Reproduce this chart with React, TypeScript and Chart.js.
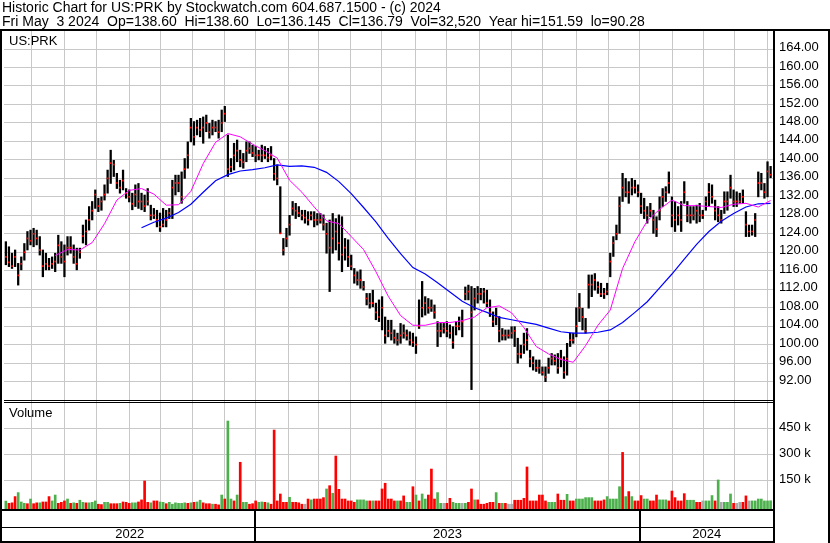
import React, { useEffect, useRef } from 'react';
import { Chart, registerables } from 'chart.js';

Chart.register(...registerables);

const TITLE_LINE1 = 'Historic Chart for US:PRK by Stockwatch.com 604.687.1500 - (c) 2024';
const TITLE_LINE2 = 'Fri May  3 2024  Op=138.60  Hi=138.60  Lo=136.145  Cl=136.79  Vol=32,520  Year hi=151.59  lo=90.28';
const SYMBOL = 'US:PRK';
const VOLUME_LABEL = 'Volume';

// price bars (each bar ~2 trading days)
const highs = [
  122.3, 121.2, 119.8, 120.5, 117.6, 119.0, 121.9, 124.5, 124.8, 125.2,
  124.8, 123.4, 120.5, 119.8, 118.7, 119.0, 119.8, 123.7, 122.3, 121.6,
  123.4, 123.4, 121.6, 120.9, 120.9, 125.9, 127.0, 129.9, 131.0, 133.5,
  131.7, 132.0, 134.6, 137.8, 142.1, 139.9, 137.1, 135.6, 137.8, 133.8,
  133.5, 132.8, 134.6, 134.9, 132.8, 132.4, 133.8, 130.2, 129.5, 129.1,
  128.5, 129.5, 129.1, 129.5, 135.6, 136.7, 136.7, 137.4, 140.3, 143.9,
  149.0, 148.3, 148.6, 149.0, 149.3, 149.7, 147.9, 148.6, 148.3, 148.6,
  150.8, 151.59, 145.4, 140.3, 143.6, 144.3, 142.1, 141.4, 143.9, 143.9,
  143.2, 142.9, 142.1, 143.2, 142.9, 142.5, 142.9, 140.3, 138.9, 134.2,
  123.0, 125.2, 128.0, 131.0, 130.6, 129.9, 129.1, 129.1, 128.8, 128.8,
  128.8, 128.4, 128.4, 128.1, 126.3, 127.0, 128.4, 127.3, 128.1, 127.7,
  123.0, 122.7, 119.4, 116.5, 115.8, 116.2, 113.7, 111.1, 111.1, 111.8,
  109.0, 109.7, 110.4, 106.0, 105.3, 105.3, 103.2, 102.5, 104.6, 104.3,
  103.2, 102.8, 102.5, 101.7, 109.7, 113.7, 110.4, 110.0, 109.7, 108.6,
  105.0, 104.6, 104.6, 105.0, 104.3, 103.9, 105.0, 106.0, 107.5, 112.5,
  112.9, 112.6, 112.2, 112.6, 112.2, 112.2, 111.8, 109.7, 107.1, 107.9,
  106.1, 103.5, 103.2, 103.2, 103.9, 103.9, 101.4, 99.9, 102.5, 103.5,
  98.8, 97.4, 96.7, 96.7, 95.2, 95.2, 97.1, 98.1, 97.8, 98.1,
  98.8, 97.4, 100.3, 102.5, 102.5, 108.0, 111.1, 107.9, 105.7, 115.1,
  115.1, 115.4, 113.6, 113.3, 112.2, 113.3, 119.8, 123.4, 125.9, 132.0,
  137.1, 136.0, 135.3, 136.0, 135.6, 134.6, 132.8, 131.7, 129.9, 130.6,
  129.1, 127.7, 132.0, 133.8, 134.2, 137.4, 132.0, 131.0, 129.9, 131.0,
  135.3, 131.0, 129.9, 129.9, 130.2, 130.6, 129.1, 132.0, 134.9, 134.6,
  131.3, 129.9, 129.1, 133.1, 133.1, 136.7, 133.5, 133.1, 132.8, 133.5,
  128.8, 125.9, 125.9, 128.4, 137.4, 137.1, 134.9, 139.6, 138.6,
];
const lows = [
  117.3, 116.9, 116.5, 116.9, 112.9, 116.2, 118.3, 120.5, 121.6, 121.2,
  121.6, 119.4, 114.7, 116.2, 116.2, 116.5, 115.8, 117.6, 117.6, 114.7,
  119.4, 119.8, 117.6, 116.2, 118.7, 122.0, 121.6, 124.8, 127.0, 129.5,
  128.8, 129.1, 131.3, 132.8, 134.9, 136.4, 133.8, 132.8, 133.5, 131.7,
  130.9, 129.2, 129.9, 129.5, 129.2, 128.8, 130.2, 127.0, 127.3, 125.5,
  124.5, 125.5, 125.5, 127.3, 127.3, 132.4, 133.1, 130.6, 136.0, 138.2,
  143.9, 143.2, 145.4, 145.0, 143.6, 146.1, 144.7, 145.4, 146.1, 144.7,
  146.1, 148.3, 136.4, 137.4, 137.8, 139.6, 138.5, 138.2, 139.6, 141.4,
  140.7, 139.6, 140.0, 139.6, 140.3, 139.6, 140.0, 135.6, 134.6, 124.1,
  119.4, 121.2, 123.7, 128.0, 127.3, 127.7, 127.0, 126.3, 125.9, 127.0,
  125.5, 125.9, 126.3, 124.8, 119.8, 111.5, 119.8, 120.5, 118.3, 115.8,
  118.3, 116.9, 116.2, 113.3, 112.9, 112.2, 111.8, 108.6, 107.9, 108.2,
  105.4, 105.0, 103.2, 100.3, 101.7, 101.0, 100.3, 99.9, 100.3, 101.4,
  101.0, 99.9, 99.6, 98.1, 103.5, 106.0, 106.4, 106.8, 107.2, 105.7,
  99.6, 101.7, 102.5, 101.7, 101.4, 99.2, 102.1, 103.2, 101.7, 109.7,
  109.7, 90.28, 107.5, 109.0, 109.7, 109.0, 108.2, 106.1, 103.9, 104.3,
  100.6, 101.0, 101.0, 101.4, 101.4, 99.6, 96.0, 97.1, 98.1, 98.8,
  95.2, 94.5, 94.2, 93.8, 93.4, 92.0, 93.8, 95.6, 95.6, 93.8,
  95.2, 92.7, 93.4, 99.6, 100.3, 101.7, 105.0, 103.2, 102.5, 107.9,
  110.4, 111.8, 111.1, 110.4, 110.0, 110.8, 114.7, 119.1, 122.7, 124.1,
  131.0, 132.0, 130.6, 132.4, 132.8, 132.0, 128.4, 127.3, 126.3, 127.7,
  124.1, 123.4, 127.0, 129.9, 131.0, 132.8, 125.5, 124.5, 125.9, 124.5,
  130.6, 126.6, 126.3, 127.0, 126.3, 126.6, 127.3, 129.1, 129.9, 130.6,
  127.0, 126.6, 126.3, 128.4, 129.1, 131.7, 129.9, 129.9, 130.6, 130.6,
  123.4, 123.4, 123.7, 123.4, 132.0, 133.5, 131.7, 132.0, 136.145,
];
const closes = [
  119.0, 117.8, 117.0, 119.0, 115.0, 117.5, 120.0, 123.0, 122.5, 124.0,
  123.0, 120.5, 117.0, 117.5, 117.0, 117.5, 118.0, 121.5, 119.0, 118.0,
  121.0, 121.0, 119.0, 117.5, 120.0, 123.5, 124.5, 127.0, 129.0, 132.5,
  130.0, 131.0, 132.5, 136.0, 139.3, 139.0, 135.0, 134.0, 135.5, 132.8,
  132.0, 130.5, 132.5, 131.0, 131.0, 130.0, 131.0, 128.0, 128.0, 127.0,
  125.5, 126.0, 127.0, 128.5, 134.0, 135.0, 135.0, 132.0, 138.0, 141.0,
  147.0, 145.0, 147.0, 146.5, 147.0, 148.0, 146.0, 147.0, 147.0, 146.0,
  148.0, 150.0, 138.0, 138.5, 141.0, 142.0, 140.0, 139.5, 142.0, 142.5,
  141.5, 141.0, 141.0, 141.0, 141.0, 140.5, 141.0, 137.0, 136.0, 124.1,
  120.5, 123.0, 126.0, 129.5, 129.0, 128.5, 128.0, 127.5, 127.0, 128.0,
  127.0, 127.0, 127.0, 126.0, 124.0, 121.0, 123.0, 124.5, 122.0, 119.5,
  121.0, 119.0, 117.0, 115.0, 114.0, 114.0, 112.5, 110.0, 109.0, 109.0,
  107.0, 106.0, 108.0, 102.0, 103.0, 102.5, 101.5, 101.0, 102.0, 102.5,
  102.0, 101.0, 100.5, 100.0, 104.0, 108.0, 109.0, 108.0, 108.0, 107.0,
  103.0, 103.0, 103.5, 103.0, 102.5, 100.5, 104.0, 104.0, 105.0, 111.0,
  111.5, 107.0, 110.0, 111.0, 111.0, 111.5, 109.0, 107.0, 105.0, 106.0,
  103.0, 102.0, 102.0, 102.0, 102.5, 103.0, 98.0, 98.0, 100.0, 101.0,
  97.0, 96.0, 95.0, 95.0, 94.0, 93.0, 95.0, 97.0, 96.5, 95.0,
  97.0, 94.0, 97.0, 101.0, 101.0, 104.0, 108.0, 106.0, 103.0, 113.0,
  113.0, 114.0, 112.5, 111.0, 111.0, 111.5, 118.0, 122.0, 124.0, 130.0,
  134.0, 133.0, 133.0, 134.0, 134.0, 133.0, 130.0, 129.0, 128.0, 129.0,
  127.0, 125.0, 129.0, 132.0, 133.0, 135.0, 128.0, 127.0, 128.0, 127.0,
  133.0, 128.0, 128.0, 128.0, 129.0, 128.0, 128.0, 131.0, 133.0, 132.0,
  129.0, 128.0, 127.0, 131.0, 131.0, 134.0, 131.0, 131.0, 131.0, 132.0,
  126.0, 124.5, 124.5, 127.0, 135.0, 135.0, 133.0, 137.5, 136.79,
];
// volume in thousands of shares
const volumesK = [
  30, 17, 20, 56, 79, 25, 17, 15, 42, 15,
  20, 20, 25, 25, 56, 31, 65, 17, 23, 31,
  42, 17, 20, 17, 35, 23, 20, 20, 23, 31,
  12, 10, 23, 23, 15, 15, 15, 17, 25, 23,
  17, 20, 20, 25, 37, 146, 23, 20, 31, 31,
  25, 23, 15, 23, 12, 20, 17, 17, 20, 17,
  20, 23, 25, 35, 20, 15, 15, 12, 12, 8,
  65, 42, 492, 42, 31, 65, 254, 23, 23, 12,
  15, 31, 23, 25, 23, 20, 12, 440, 31, 71,
  23, 23, 52, 23, 23, 20, 12, 12, 42, 37,
  42, 42, 42, 50, 100, 119, 75, 290, 98, 42,
  42, 31, 31, 23, 37, 37, 37, 31, 31, 31,
  31, 31, 100, 133, 42, 42, 31, 31, 31, 60,
  23, 23, 113, 65, 31, 71, 42, 65, 215, 42,
  79, 17, 17, 17, 46, 23, 17, 17, 17, 17,
  23, 100, 37, 37, 12, 12, 17, 23, 23, 79,
  17, 17, 17, 12, 12, 35, 35, 35, 46, 227,
  31, 31, 31, 65, 65, 31, 23, 23, 23, 71,
  35, 35, 69, 31, 31, 42, 42, 42, 50, 50,
  50, 31, 31, 31, 37, 56, 42, 42, 42, 113,
  311, 56, 85, 56, 31, 31, 62, 42, 42, 31,
  31, 65, 37, 37, 37, 31, 88, 50, 31, 31,
  73, 35, 35, 35, 23, 23, 31, 31, 31, 62,
  31, 152, 23, 23, 23, 71, 17, 17, 23, 23,
  60, 31, 31, 31, 42, 42, 31, 31, 32,
];
// g = up, r = down, n = unchanged
const volumeDirections = [
  'grrrgggrgr', 'rgrrrggrrr', 'grgrggrggg', 'rrggrrrgrr', 'rggrrrrgrr',
  'ggrggggggr', 'grggrrrgrr', 'grggrgrggr', 'rrggrgrrrr', 'rrgrrrrnrg',
  'rrrrgrgrrr', 'rrrrggggrg', 'rrrrrrrgrr', 'ggrgrggrrr', 'ggnrrgggng',
  'rrgrrrrrrg', 'rgrnnrrrrr', 'rrrrrrgggr', 'rrgrrggggg', 'grrrrggggg',
  'rgrgrrrggr', 'rrgggrrrrr', 'rgggrrnggg', 'rgngggrnnr', 'rnggggggg',
].join('').split('');

// moving averages, sampled every MA_STEP bars
const MA_STEP = 4;
const maFast = [
  null, null, null, null, 119.3, 120.6, 120.5, 122.1, 126.2, 131.3,
  133.4, 133.8, 132.6, 130.2, 130.3, 133.2, 139.2, 143.8, 145.7, 145.0,
  143.4, 142.0, 140.4, 135.6, 133.0, 129.8, 126.8, 126.2, 123.4, 120.6,
  115.8, 110.5, 106.3, 104.2, 104.2, 104.8, 104.8, 105.2, 106.0, 108.0,
  108.4, 106.9, 103.7, 99.6, 98.0, 96.8, 96.2, 99.8, 104.2, 107.5,
  116.5, 122.3, 126.8, 129.3, 131.3, 130.1, 130.1, 129.9, 129.7, 130.4,
  130.6, 129.8, 131.2,
];
const maSlow = [
  null, null, null, null, null, null, null, null, null, null,
  null, 125.3, 126.5, 127.4, 128.6, 130.4, 133.0, 135.5, 136.8, 137.6,
  137.9, 138.3, 138.9, 138.6, 138.7, 138.4, 137.3, 135.3, 132.7, 129.7,
  126.6, 123.0, 119.7, 116.7, 115.3, 113.4, 111.4, 109.4, 108.0, 107.0,
  105.9, 105.4, 104.9, 104.4, 103.6, 102.8, 102.5, 102.5, 102.7, 103.2,
  104.8, 107.0, 109.3, 112.3, 115.3, 118.5, 121.7, 124.5, 126.7, 128.4,
  129.8, 130.5, 130.6,
];

// month boundaries in bar-index units (Jun 2022 .. May 2024)
const monthStarts = [
  8.46, 19.03, 29.25, 40.05, 50.27, 60.53, 70.78, 80.9, 91.67, 101.37,
  111.72, 121.88, 132.74, 142.9, 153.44, 164.02, 173.95, 184.94, 195.49, 205.51,
  216.18, 226.21, 236.24, 247.04,
];
const yearStarts = [80.9, 205.51];
const yearLabels = ['2022', '2023', '2024'];
const priceTicks = [92, 96, 100, 104, 108, 112, 116, 120, 124, 128, 132, 136, 140, 144, 148, 152, 156, 160, 164];
const volumeTicks = [150000, 300000, 450000];

const X_MIN = -0.6;
const X_MAX = 249.1;
const PRICE_MIN = 88.03;
const PRICE_MAX = 167.9;
const VOL_MIN = -15600;
const VOL_MAX = 613300;

const FONT_FAMILY = "'Liberation Sans', Arial, Helvetica, sans-serif";
const GRID_COLOR = '#c8c8c8';
const VOL_COLORS: Record<string, string> = { g: '#4cb04c', r: '#ff0000', n: '#a8a8a8' };

const framePlugin = {
  id: 'stockFrame',
  afterDraw(chart: any) {
    const ctx = chart.ctx as CanvasRenderingContext2D;
    const { left, right, top, bottom } = chart.chartArea;
    const W = chart.width;
    const H = chart.height;
    const priceScale = chart.scales.y;
    const xScale = chart.scales.x;
    ctx.save();
    ctx.fillStyle = '#000';
    ctx.font = `14px ${FONT_FAMILY}`;
    ctx.textAlign = 'left';
    ctx.textBaseline = 'alphabetic';
    ctx.fillText(TITLE_LINE1, 2, 12);
    ctx.fillText(TITLE_LINE2, 2, 26);

    // outer frame
    ctx.fillRect(0, top - 2, W, 2);
    ctx.fillRect(0, top - 2, 2, H - top + 2);
    ctx.fillRect(right - 1, top - 2, 2, H - top + 2);
    ctx.fillRect(W - 2, top - 2, 2, H - top + 2);

    // separator between price and volume panels
    const sep = Math.round(priceScale.bottom);
    ctx.fillRect(left, sep, right - left, 1);
    ctx.fillRect(left, sep + 2, right - left, 1);

    // date bands
    ctx.fillRect(0, bottom, right, 2);
    ctx.fillRect(0, bottom + 18, right, 1);
    ctx.fillRect(0, H - 2, right, 2);
    for (const v of yearStarts) {
      const px = Math.round(xScale.getPixelForValue(v));
      ctx.fillRect(px - 1, bottom, 2, H - bottom);
    }

    // panel labels
    ctx.font = `13px ${FONT_FAMILY}`;
    ctx.fillText(SYMBOL, 9, 45);
    ctx.fillText(VOLUME_LABEL, 9, 417);
    ctx.restore();
  },
};

export default function App() {
  const canvasRef = useRef<HTMLCanvasElement | null>(null);

  useEffect(() => {
    document.body.style.margin = '0';
    const canvas = canvasRef.current;
    if (!canvas) return;

    const barData = highs.map((h, i) => ({ x: i, y: [lows[i], h] }));
    const closeData = closes.map((c, i) => ({ x: i, y: c }));
    const volData = volumesK.map((v, i) => ({ x: i, y: [VOL_MIN, v * 1000] }));
    const volColors = volumeDirections.map((d) => VOL_COLORS[d] || VOL_COLORS.n);
    const toLine = (arr: (number | null)[]) =>
      arr
        .map((v, k) => ({ x: k * MA_STEP, y: v }))
        .filter((p) => p.y !== null && p.x <= highs.length - 1);

    const tickFont = { family: FONT_FAMILY, size: 13 };

    const chart = new Chart(canvas, {
      type: 'bar',
      data: {
        datasets: [
          {
            type: 'line',
            label: 'MA fast',
            data: toLine(maFast) as any,
            borderColor: '#ff00ff',
            borderWidth: 1,
            pointRadius: 0,
            tension: 0,
            yAxisID: 'y',
            xAxisID: 'x',
          },
          {
            type: 'line',
            label: 'MA slow',
            data: toLine(maSlow) as any,
            borderColor: '#0000ff',
            borderWidth: 1.2,
            pointRadius: 0,
            tension: 0,
            yAxisID: 'y',
            xAxisID: 'x',
          },
          {
            type: 'line',
            label: 'Close',
            data: closeData as any,
            showLine: false,
            pointStyle: 'rect',
            pointRadius: 1.2,
            pointBackgroundColor: '#ff0000',
            pointBorderWidth: 0,
            yAxisID: 'y',
            xAxisID: 'x',
          },
          {
            type: 'bar',
            label: 'Range',
            data: barData as any,
            backgroundColor: '#000000',
            barThickness: 1.6,
            grouped: false,
            yAxisID: 'y',
            xAxisID: 'x',
          },
          {
            type: 'bar',
            label: 'Volume',
            data: volData as any,
            backgroundColor: volColors,
            barThickness: 2,
            grouped: false,
            yAxisID: 'yVol',
            xAxisID: 'x',
          },
        ],
      },
      options: {
        responsive: false,
        animation: false,
        devicePixelRatio: 1,
        events: [],
        layout: { padding: { left: 2, top: 31, right: 0, bottom: 0 } },
        plugins: {
          legend: { display: false },
          tooltip: { enabled: false },
          title: { display: false },
        },
        scales: {
          x: {
            type: 'linear',
            position: 'bottom',
            min: X_MIN,
            max: X_MAX,
            offset: false,
            afterBuildTicks: (s: any) => {
              s.ticks = monthStarts.map((v) => ({ value: v }));
            },
            afterFit: (s: any) => {
              s.height = 0;
            },
            ticks: { display: false },
            grid: { color: GRID_COLOR, drawTicks: false, offset: false, lineWidth: 1 },
            border: { display: false },
          },
          xYear: {
            type: 'linear',
            position: 'bottom',
            min: X_MIN,
            max: X_MAX,
            offset: false,
            afterBuildTicks: (s: any) => {
              const b = [X_MIN, ...yearStarts, X_MAX];
              s.ticks = yearLabels.map((_, i) => ({ value: (b[i] + b[i + 1]) / 2 }));
            },
            afterFit: (s: any) => {
              s.height = 34;
            },
            ticks: {
              callback: (_v: any, i: number) => yearLabels[i],
              font: tickFont,
              color: '#000',
              padding: 18,
              maxRotation: 0,
              autoSkip: false,
            },
            grid: { display: false, drawTicks: false },
            border: { display: false },
          },
          y: {
            type: 'linear',
            position: 'right',
            stack: 'panels',
            stackWeight: 369,
            min: PRICE_MIN,
            max: PRICE_MAX,
            afterBuildTicks: (s: any) => {
              s.ticks = priceTicks.map((v) => ({ value: v }));
            },
            afterFit: (s: any) => {
              s.width = 56;
            },
            ticks: {
              callback: (v: any) => Number(v).toFixed(2),
              font: tickFont,
              color: '#000',
              padding: 5,
              labelOffset: -1.5,
              autoSkip: false,
            },
            grid: { color: GRID_COLOR, drawTicks: false, lineWidth: 1 },
            border: { display: false },
          },
          yVol: {
            type: 'linear',
            position: 'right',
            stack: 'panels',
            stackWeight: 109,
            min: VOL_MIN,
            max: VOL_MAX,
            afterBuildTicks: (s: any) => {
              s.ticks = volumeTicks.map((v) => ({ value: v }));
            },
            afterFit: (s: any) => {
              s.width = 56;
            },
            ticks: {
              callback: (v: any) => `${Math.round(Number(v) / 1000)} k`,
              font: tickFont,
              color: '#000',
              padding: 5,
              labelOffset: -1,
              autoSkip: false,
            },
            grid: { color: GRID_COLOR, drawTicks: false, lineWidth: 1 },
            border: { display: false },
          },
        },
      } as any,
      plugins: [framePlugin],
    });

    return () => {
      chart.destroy();
    };
  }, []);

  return (
    <div style={{ width: 830, height: 543, background: '#fff' }}>
      <canvas ref={canvasRef} width={830} height={543} style={{ display: 'block', width: 830, height: 543 }} />
    </div>
  );
}
